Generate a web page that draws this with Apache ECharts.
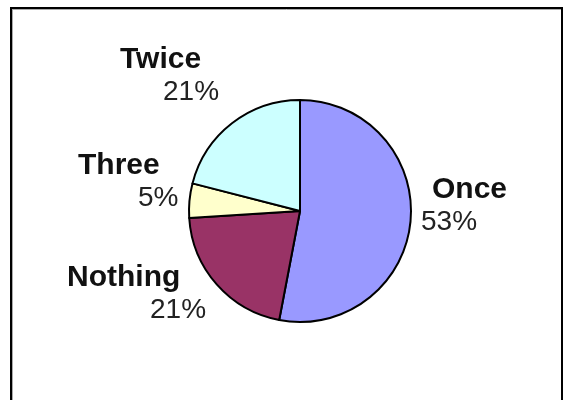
<!DOCTYPE html>
<html>
<head>
<meta charset="utf-8">
<script src="https://cdn.jsdelivr.net/npm/echarts@6/dist/echarts.min.js"></script>
<style>
html,body{margin:0;padding:0;background:#fff;}
#chart{width:570px;height:400px;}
</style>
</head>
<body>
<div id="chart"></div>
<script>
// Data
const categories = ['Once', 'Nothing', 'Three', 'Twice'];
const values = [53, 21, 5, 21];
const colors = ['#9999FF', '#993366', '#FFFFCC', '#CCFFFF'];

// Label layout styles (top-left anchor of each label block, per-line offsets)
const labelStyle = {
  Once:    { x: 421, y: 174, namePad: 11, valuePad: 0 },
  Nothing: { x: 67,  y: 262, namePad: 0,  valuePad: 83 },
  Three:   { x: 78,  y: 150, namePad: 0,  valuePad: 60 },
  Twice:   { x: 120, y: 44,  namePad: 0,  valuePad: 43 }
};

const chart = echarts.init(document.getElementById('chart'), null, { renderer: 'canvas' });

const data = categories.map((name, i) => ({
  name: name,
  value: values[i],
  itemStyle: { color: colors[i] },
  label: {
    rich: {
      n: { fontFamily: 'Liberation Sans', fontWeight: 'bold', fontSize: 30, lineHeight: 32, color: '#111', padding: [0, 0, 0, labelStyle[name].namePad] },
      v: { fontFamily: 'Liberation Sans', fontWeight: 'normal', fontSize: 28, lineHeight: 32, color: '#222', padding: [0, 0, 0, labelStyle[name].valuePad] }
    }
  }
}));

chart.setOption({
  backgroundColor: '#ffffff',
  animation: false,
  graphic: [
    { type: 'line', shape: { x1: 11, y1: 8, x2: 11, y2: 400 }, style: { stroke: '#000', lineWidth: 2 } },
    { type: 'line', shape: { x1: 10, y1: 8, x2: 563, y2: 8 }, style: { stroke: '#000', lineWidth: 2 } },
    { type: 'line', shape: { x1: 562, y1: 7, x2: 562, y2: 400 }, style: { stroke: '#000', lineWidth: 2 } },
    { type: 'line', shape: { x1: 12.5, y1: 10, x2: 12.5, y2: 400 }, style: { stroke: '#aaa', lineWidth: 1 } },
    { type: 'line', shape: { x1: 12, y1: 9.5, x2: 561, y2: 9.5 }, style: { stroke: '#aaa', lineWidth: 1 } }
  ],
  series: [{
    type: 'pie',
    center: [300, 211],
    radius: 111,
    startAngle: 90,
    clockwise: true,
    avoidLabelOverlap: false,
    silent: true,
    itemStyle: { borderColor: '#000', borderWidth: 2 },
    label: {
      show: true,
      position: 'outside',
      formatter: p => '{n|' + p.name + '}\n{v|' + p.value + '%}'
    },
    labelLine: { show: false },
    labelLayout: function (params) {
      const name = categories[params.dataIndex];
      const s = labelStyle[name];
      return { x: s.x, y: s.y, align: 'left', verticalAlign: 'top' };
    },
    data: data
  }]
});
</script>
</body>
</html>
